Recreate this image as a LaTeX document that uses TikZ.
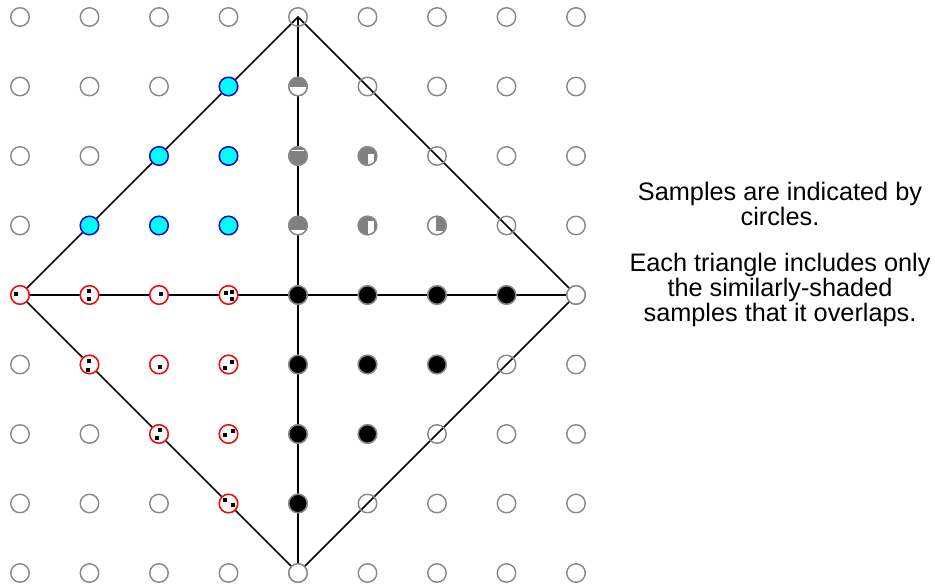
\documentclass[tikz,border=0pt]{standalone}
\usepackage{fontspec}
\setmainfont{Liberation Sans}

\definecolor{ringgray}{RGB}{136,136,136}
\definecolor{coverg}{RGB}{128,128,128}
\definecolor{sblue}{RGB}{0,0,235}
\definecolor{scyan}{RGB}{0,255,255}

\tikzset{
  edge/.style={line width=0.9pt, black},
  sample/.style={circle, draw=ringgray, line width=0.8pt, minimum size=0.37cm, inner sep=0pt},
  hitpt/.style={sample, fill=black},
  bluept/.style={sample, draw=sblue, fill=scyan},
  redpt/.style={sample, draw=red, fill=white},
  note/.style={align=center, inner sep=0pt, font=\fontsize{14.4pt}{14.2pt}\selectfont}
}

% partly covered sample: node, lower corner, upper corner
\newcommand{\partcov}[3]{%
  \node[sample, fill=white] (#1) at (p#1) {};
  \begin{scope}
    \clip (p#1) circle[radius=0.175cm];
    \fill[coverg] ([shift={#2}]p#1) rectangle ([shift={#3}]p#1);
  \end{scope}}

\begin{document}
\begin{tikzpicture}[x=0.02cm, y=-0.02cm]
    % Page frame
    \useasboundingbox (0,0) rectangle (935,584);

    % Define the sample points
    \foreach \i in {0,...,8}
      \foreach \j in {0,...,8}
        \coordinate (p\i\j) at (20+69.5*\i, 17+69.5*\j);

    % Draw the triangles
    \draw[edge] (p40) -- (p04) -- (p48) -- (p84) -- cycle;
    \draw[edge] (p04) -- (p84);
    \draw[edge] (p40) -- (p48);

    % Draw the empty samples
    \foreach \i in {0,...,8}
      \foreach \j in {0,...,8}
        \node[sample] (s\i\j) at (p\i\j) {};
    \node[sample, fill=white] (v84) at (p84) {};
    \node[sample, fill=white] (v48) at (p48) {};

    % Samples of the upper left triangle
    \foreach \i/\j in {3/1, 2/2, 3/2, 1/3, 2/3, 3/3}
      \node[bluept] (b\i\j) at (p\i\j) {};

    % Samples of the lower right triangle
    \foreach \i/\j in {4/4, 5/4, 6/4, 7/4, 4/5, 5/5, 6/5, 4/6, 5/6, 4/7}
      \node[hitpt] (k\i\j) at (p\i\j) {};

    % Samples of the lower left triangle
    \foreach \i/\j in {0/4, 1/4, 2/4, 3/4, 1/5, 2/5, 3/5, 2/6, 3/6, 3/7}
      \node[redpt] (r\i\j) at (p\i\j) {};
    \foreach \n/\dx/\dy in {04/-4/-1, 14/-1/-4, 14/-1/4, 24/2/-1,
                            34/-3/-2, 34/3/-3, 34/3/4, 15/-1/-4, 15/-2/5,
                            25/1/2, 35/3/-3, 35/-4/3, 26/1/-4, 26/-2/4,
                            36/-4/1, 36/4/-3, 37/-4/-4, 37/4/1}
      \fill ([shift={(\dx-2,\dy-2)}]p\n) rectangle +(4,4);

    % Samples of the upper right triangle
    \partcov{41}{(-10,-10)}{(10,1)}
    \partcov{42}{(-10,-10)}{(10,-6)}
    \begin{scope}
      \clip (p42) circle[radius=0.175cm];
      \fill[coverg] ([shift={(-10,-4.5)}]p42) rectangle ([shift={(10,10)}]p42);
    \end{scope}
    \partcov{52}{(-10,-10)}{(10,-2)}
    \begin{scope}
      \clip (p52) circle[radius=0.175cm];
      \fill[coverg] ([shift={(-10,-2)}]p52) rectangle ([shift={(0,10)}]p52);
      \fill[coverg] ([shift={(6,-2)}]p52) rectangle ([shift={(10,10)}]p52);
    \end{scope}
    \partcov{43}{(-10,-10)}{(10,4)}
    \partcov{53}{(-10,-10)}{(0,10)}
    \begin{scope}
      \clip (p53) circle[radius=0.175cm];
      \fill[coverg] ([shift={(0,-10)}]p53) rectangle ([shift={(10,-5)}]p53);
      \fill[coverg] ([shift={(6,-10)}]p53) rectangle ([shift={(10,10)}]p53);
    \end{scope}
    \partcov{63}{(-1,-10)}{(10,5)}

    % Place the notes
    \node[note, anchor=north] (samples) at (780,182)
      {Samples are indicated by\\circles.};
    \node[note, anchor=north] (triangles) at (780,253)
      {Each triangle includes only\\the similarly-shaded\\samples that it overlaps.};

\end{tikzpicture}
\end{document}
